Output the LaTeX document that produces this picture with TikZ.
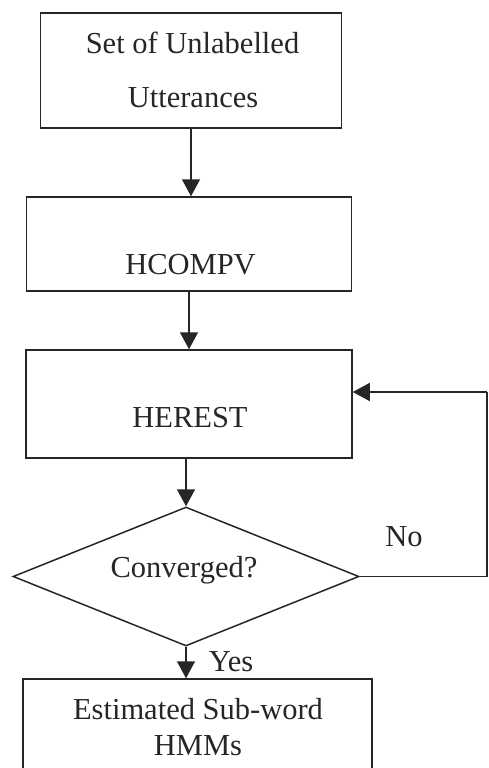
\documentclass[tikz,border=0pt]{standalone}
\usepackage{fontspec}
\setmainfont{Liberation Serif}
\usetikzlibrary{shapes.geometric,arrows.meta}
\begin{document}
\begin{tikzpicture}[x=1pt,y=-1pt,
  box/.style={draw=black!85,line width=1.5pt,rectangle,inner sep=0pt},
  dia/.style={draw=black!85,line width=1.5pt,diamond,inner sep=0pt},
  txt/.style={anchor=base,inner sep=0pt,font=\fontsize{30.5}{36}\selectfont,text=black!85},
  flow/.style={draw=black!85,line width=1.5pt,-{Triangle[length=17pt,width=18pt]}},
  line/.style={draw=black!85,line width=1.5pt}]
\useasboundingbox (0,0) rectangle (488,768);
% boxes
\node[box,minimum width=301pt,minimum height=115pt] (b1) at (191,70.5) {};
\node[box,minimum width=325pt,minimum height=94pt] (b2) at (189,244) {};
\node[box,minimum width=326pt,minimum height=108pt] (b3) at (189,404) {};
\node[dia,minimum width=346pt,minimum height=139pt] (d) at (186,576.5) {};
\node[box,minimum width=349pt,minimum height=100pt] (b4) at (197.5,729) {};
% texts
\node[txt] (t1a) at (192.5,53) {Set of Unlabelled};
\node[txt] (t1b) at (193,107) {Utterances};
\node[txt] (t2) at (190.5,274) {HCOMPV};
\node[txt] (t3) at (190,427) {HEREST};
\node[txt] (t4) at (184,577) {Converged?};
\node[txt] (t5a) at (198,719) {Estimated Sub-word};
\node[txt] (t5b) at (198,755) {HMMs};
\node[txt] (no) at (404,546) {No};
\node[txt] (yes) at (231,671) {Yes};
% connectors
\draw[flow] (b1.south) -- (b1.south |- b2.north);
\draw[flow] (b2.south) -- (b2.south |- b3.north);
\draw[flow] (d.north |- b3.south) -- (d.north);
\draw[flow] (d.south) -- (b4.north -| d.south);
\coordinate (c1) at (487,576.5);
\coordinate (c2) at (487,392);
\draw[line] (d.east) -- (c1) -- (c2);
\draw[flow] (c2) -- (b3.east |- c2);
\end{tikzpicture}
\end{document}
